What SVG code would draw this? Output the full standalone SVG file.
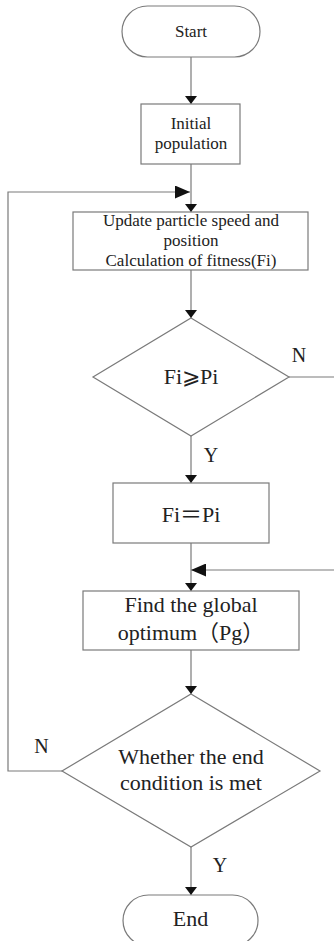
<svg xmlns="http://www.w3.org/2000/svg" width="334" height="941" viewBox="0 0 334 941">
<style>
.shape{fill:#fff;stroke:#7a7a7a;stroke-width:1.2}
.conn{fill:none;stroke:#7a7a7a;stroke-width:1.2}
text{font-family:"Liberation Serif","Noto Sans CJK SC",serif;fill:#222;text-anchor:middle}
.s17{font-size:17px}
.s22{font-size:22px}
.lab{font-size:20px}
</style>
<defs>
<marker id="sm" markerUnits="userSpaceOnUse" viewBox="0 0 8 12" markerWidth="8" markerHeight="12" refX="8" refY="6" orient="auto"><path d="M0,0 L8,6 L0,12 z" fill="#111"/></marker>
<marker id="bg" markerUnits="userSpaceOnUse" viewBox="0 0 15 13" markerWidth="15" markerHeight="13" refX="15" refY="6.5" orient="auto"><path d="M0,0 L15,6.5 L0,13 z" fill="#111"/></marker>
</defs>
<rect width="334" height="941" fill="#fff"/>
<g id="connectors">
<path class="conn" d="M191,57 V104" marker-end="url(#sm)"/>
<path class="conn" d="M191,164 V212" marker-end="url(#sm)"/>
<path class="conn" d="M62,771 H8 V192 H190" marker-end="url(#bg)"/>
<path class="conn" d="M191,270 V318" marker-end="url(#sm)"/>
<path class="conn" d="M191,436 V483" marker-end="url(#sm)"/>
<path class="conn" d="M289,377 H345 V570 H191" marker-end="url(#bg)"/>
<path class="conn" d="M191,543 V591" marker-end="url(#sm)"/>
<path class="conn" d="M191,650 V694" marker-end="url(#sm)"/>
<path class="conn" d="M191,847 V895" marker-end="url(#sm)"/>
<text class="lab" x="299" y="362">N</text>
<text class="lab" x="211" y="462">Y</text>
<text class="lab" x="41.5" y="753">N</text>
<text class="lab" x="220" y="872">Y</text>
</g>
<g id="start">
<rect class="shape" x="122" y="6" width="138" height="51" rx="25.5"/>
<text class="s17" x="191" y="37">Start</text>
</g>
<g id="init">
<rect class="shape" x="141" y="104" width="99" height="60"/>
<text class="s17" x="191" y="129">Initial</text>
<text class="s17" x="191" y="149">population</text>
</g>
<g id="update">
<rect class="shape" x="73" y="212" width="235" height="58"/>
<text class="s17" x="191" y="226">Update particle speed and</text>
<text class="s17" x="191" y="246">position</text>
<text class="s17" x="191" y="266">Calculation of fitness(Fi)</text>
</g>
<g id="cond1">
<polygon class="shape" points="191,318 289,377 191,436 93,377"/>
<text class="s22" x="191" y="384">Fi⩾Pi</text>
</g>
<g id="assign">
<rect class="shape" x="113" y="483" width="156" height="60"/>
<text class="s22" x="191" y="522">Fi＝Pi</text>
</g>
<g id="find">
<rect class="shape" x="83" y="591" width="216" height="59"/>
<text class="s22" x="191" y="612">Find the global</text>
<text class="s22" x="191" y="640">optimum（Pg）</text>
</g>
<g id="cond2">
<polygon class="shape" points="191,694 320,771 191,847 62,771"/>
<text class="s22" x="191" y="764">Whether the end</text>
<text class="s22" x="191" y="790">condition is met</text>
</g>
<g id="end">
<rect class="shape" x="123" y="895" width="135" height="51" rx="25.5"/>
<text class="s22" x="190.5" y="926">End</text>
</g>
</svg>
